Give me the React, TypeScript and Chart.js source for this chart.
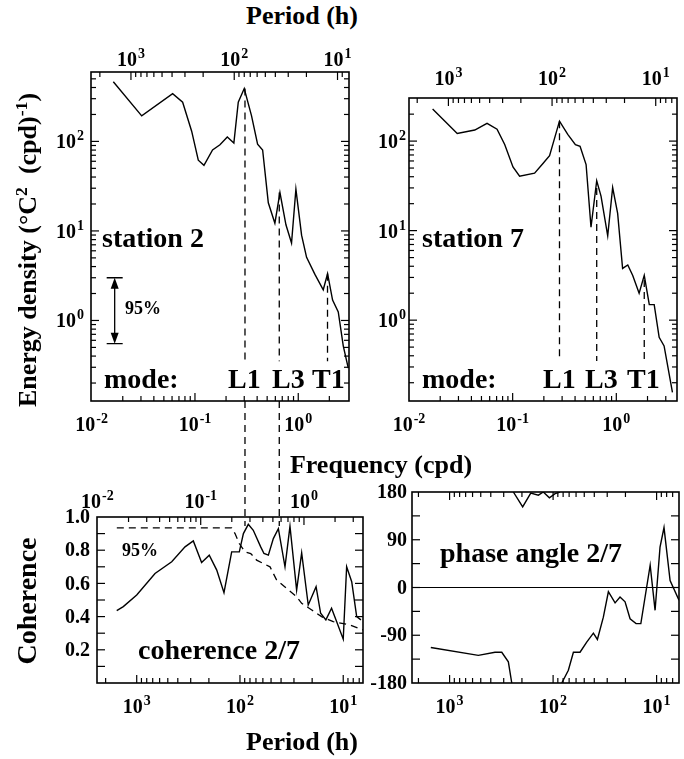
import { useEffect, useRef } from "react";
import { Chart, registerables } from "chart.js";

Chart.register(...registerables);

const FONT = '"Liberation Serif", "Times New Roman", Times, serif';
const HOURS_PER_DAY = 24;

// ---- Station 2 temperature spectrum (frequency in cpd, energy density) ----
const st2Freq = [0.0162, 0.0305, 0.0608, 0.076, 0.0929, 0.1077, 0.1222, 0.148, 0.1746, 0.2056, 0.238, 0.2626, 0.3, 0.353, 0.404, 0.452, 0.513, 0.594, 0.665, 0.76, 0.861, 0.949, 1.077, 1.204, 1.45, 1.746, 1.923, 2.15, 2.44, 2.73, 3.05];
const st2Energy = [464, 193, 341, 274, 130, 61.7, 54.1, 80.3, 91.6, 112, 95.7, 274, 389, 193, 93.2, 80.3, 20.6, 12.2, 26.8, 11.7, 7.33, 29.3, 8.96, 5.07, 3.27, 2.2, 3.33, 1.69, 1.245, 0.518, 0.293];

// ---- Station 7 temperature spectrum ----
const st7Freq = [0.0169, 0.0292, 0.0431, 0.0566, 0.0707, 0.0838, 0.1007, 0.1167, 0.1628, 0.196, 0.227, 0.283, 0.34, 0.403, 0.447, 0.511, 0.57, 0.647, 0.712, 0.826, 0.922, 1.03, 1.15, 1.29, 1.44, 1.66, 1.86, 2.08, 2.32, 2.59, 2.89, 3.48];
const st7Energy = [228, 121.6, 133, 158, 136, 91.5, 51.5, 40.5, 43.9, 56.2, 68.9, 167, 119, 91.5, 87.5, 54.7, 10.9, 36.1, 24.3, 8.75, 30.3, 15.6, 3.78, 4.13, 3.16, 2.0, 3.16, 1.49, 1.49, 0.642, 0.515, 0.156];

// ---- Seiche modes marked on both spectra ----
const modeNames = ["L1", "L3", "T1"];
const st2ModeFreq = [0.305, 0.655, 1.92];
const st2ModeTop = [389, 26.8, 3.33];
const st7ModeFreq = [0.283, 0.647, 1.86];
const st7ModeTop = [167, 30, 2.8];
const modeBottom = 0.35;

// 95% confidence interval of the spectral estimate
const errBarFreq = 0.0167;
const errBarLow = 0.55;
const errBarHigh = 3.0;

// ---- Coherence between stations 2 and 7 ----
const cohFreq = [0.01537, 0.0178, 0.024, 0.0361, 0.0524, 0.0705, 0.0848, 0.102, 0.121, 0.143, 0.168, 0.1995, 0.2365, 0.259, 0.289, 0.323, 0.381, 0.41, 0.452, 0.505, 0.565, 0.655, 0.732, 0.849, 0.95, 1.1, 1.31, 1.45, 1.63, 1.85, 2.07, 2.4, 2.59, 2.9, 3.24, 3.56];
const cohValue = [0.436, 0.46, 0.53, 0.66, 0.73, 0.82, 0.856, 0.726, 0.77, 0.68, 0.544, 0.79, 0.79, 0.9, 0.956, 0.92, 0.82, 0.78, 0.77, 0.87, 0.93, 0.7, 0.944, 0.56, 0.784, 0.47, 0.58, 0.42, 0.38, 0.45, 0.37, 0.264, 0.7, 0.61, 0.4, 0.38];
const coh95Freq = [0.0154, 0.1995, 0.215, 0.2365, 0.2685, 0.305, 0.348, 0.404, 0.469, 0.544, 0.679, 0.849, 0.95, 1.19, 1.48, 1.92, 2.79, 3.73];
const coh95Value = [0.934, 0.934, 0.9, 0.84, 0.79, 0.78, 0.74, 0.72, 0.7, 0.62, 0.57, 0.52, 0.48, 0.44, 0.4, 0.37, 0.35, 0.32];
// frequencies at which the L1 / L3 guides continue into the coherence panel
const connectorFreq = [0.305, 0.655];

// ---- Phase angle 2/7 (degrees, null = wrap-around break) ----
const phaseFreq = [0.0158, 0.0455, 0.0659, 0.0766, 0.0887, 0.0957, 0.0975, 0.0991, 0.122, 0.146, 0.173, 0.193, 0.221, 0.251, 0.28, 0.285, 0.291, 0.337, 0.377, 0.437, 0.507, 0.588, 0.643, 0.734, 0.821, 0.953, 1.064, 1.19, 1.33, 1.52, 1.69, 2.08, 2.32, 2.59, 2.83, 3.24, 3.95];
const phaseDeg = [-113, -128, -122, -122, -140, -180, null, 180, 152, 178, 174, 180, 169, 177, 180, null, -180, -156, -122, -122, -103, -86, -98, -56, -8, -29, -18, -27, -59, -68, -68, 42, -43, 76, 113, 13, -24];

type Pt = { x: number; y: number | null };
const zip = (xs: number[], ys: (number | null)[]): Pt[] => xs.map((x, i) => ({ x, y: ys[i] }));

const line = (data: Pt[], dash: number[] = [], width = 1.4) => ({
  data,
  borderColor: "#000",
  backgroundColor: "#000",
  borderWidth: width,
  borderDash: dash,
  pointRadius: 0,
  fill: false,
  tension: 0,
  spanGaps: false,
});

const modeLines = (freq: number[], top: number[]) =>
  freq.map((f, i) => line([{ x: f, y: top[i] }, { x: f, y: modeBottom }], [7, 5], 1.3));

type Kind = "log" | "period" | "coh" | "phase";
type Side = { kind: Kind; labels: boolean; gap: number };
type Tick = { v: number; major: boolean; pow?: number; text?: string };

interface Panel {
  box: [number, number, number, number];
  pad: [number, number, number, number];
  x: [number, number];
  y: [number, number];
  yLog: boolean;
  top: Side;
  bottom: Side;
  left: Side;
  right: Side;
  datasets: any[];
  connectors?: number[];
  errorBar?: boolean;
}

function decadeTicks(min: number, max: number): Tick[] {
  const out: Tick[] = [];
  for (let k = -4; k <= 4; k++) {
    for (let m = 1; m <= 9; m++) {
      const v = m * Math.pow(10, k);
      if (v >= min * 0.99 && v <= max * 1.01) out.push({ v, major: m === 1, pow: m === 1 ? k : undefined });
    }
  }
  return out;
}

function periodTicks(min: number, max: number): Tick[] {
  const out: Tick[] = [];
  for (let k = 0; k <= 4; k++) {
    for (let m = 1; m <= 9; m++) {
      const v = HOURS_PER_DAY / (m * Math.pow(10, k));
      if (v >= min * 0.99 && v <= max * 1.01) out.push({ v, major: m === 1, pow: m === 1 ? k : undefined });
    }
  }
  return out;
}

function makeTicks(kind: Kind, min: number, max: number): Tick[] {
  if (kind === "log") return decadeTicks(min, max);
  if (kind === "period") return periodTicks(min, max);
  if (kind === "coh") {
    const out: Tick[] = [];
    for (let i = 0; i <= 10; i++) {
      const v = i / 10;
      out.push({ v, major: true, text: i > 0 && i % 2 === 0 ? v.toFixed(1) : undefined });
    }
    return out;
  }
  const out: Tick[] = [];
  for (let v = -180; v <= 180; v += 45) out.push({ v, major: true, text: v % 90 === 0 ? String(v) : undefined });
  return out;
}

const BASE_PX = 20;
const SUP_PX = 14;
const NUM_PX = 20;

function drawPow(ctx: CanvasRenderingContext2D, exp: number, x: number, baseline: number, align: "center" | "right") {
  const base = `bold ${BASE_PX}px ${FONT}`;
  const sup = `bold ${SUP_PX}px ${FONT}`;
  ctx.font = base;
  const wb = ctx.measureText("10").width;
  ctx.font = sup;
  const es = String(exp);
  const ws = ctx.measureText(es).width;
  const total = wb + 1 + ws;
  const x0 = align === "center" ? x - total / 2 : x - total;
  ctx.textAlign = "left";
  ctx.textBaseline = "alphabetic";
  ctx.font = base;
  ctx.fillText("10", x0, baseline);
  ctx.font = sup;
  ctx.fillText(es, x0 + wb + 1, baseline - 8);
}

function drawSide(ctx: CanvasRenderingContext2D, a: any, scale: any, range: [number, number], side: Side, where: "top" | "bottom" | "left" | "right") {
  const ticks = makeTicks(side.kind, range[0], range[1]);
  const horiz = where === "top" || where === "bottom";
  ctx.lineWidth = 1.2;
  for (const t of ticks) {
    const p = scale.getPixelForValue(t.v);
    const len = t.major ? 8 : 5;
    const inside = horiz ? p > a.left + 1.5 && p < a.right - 1.5 : p > a.top + 1.5 && p < a.bottom - 1.5;
    if (inside) {
      ctx.beginPath();
      if (where === "top") { ctx.moveTo(p, a.top); ctx.lineTo(p, a.top + len); }
      if (where === "bottom") { ctx.moveTo(p, a.bottom); ctx.lineTo(p, a.bottom - len); }
      if (where === "left") { ctx.moveTo(a.left, p); ctx.lineTo(a.left + len, p); }
      if (where === "right") { ctx.moveTo(a.right, p); ctx.lineTo(a.right - len, p); }
      ctx.stroke();
    }
    if (!side.labels) continue;
    if (t.pow !== undefined) {
      if (where === "top") drawPow(ctx, t.pow, p, a.top - side.gap, "center");
      if (where === "bottom") drawPow(ctx, t.pow, p, a.bottom + side.gap, "center");
      if (where === "left") drawPow(ctx, t.pow, a.left - side.gap, p + 7, "right");
    } else if (t.text !== undefined) {
      ctx.font = `bold ${NUM_PX}px ${FONT}`;
      ctx.textAlign = "right";
      ctx.textBaseline = "middle";
      ctx.fillText(t.text, a.left - side.gap, p + 1);
    }
  }
}

function framePlugin(p: Panel) {
  return {
    id: "frame",
    afterDraw(chart: any) {
      const ctx: CanvasRenderingContext2D = chart.ctx;
      const a = chart.chartArea;
      const xs = chart.scales.x;
      const ys = chart.scales.y;
      ctx.save();
      ctx.strokeStyle = "#000";
      ctx.fillStyle = "#000";
      if (p.connectors) {
        ctx.lineWidth = 1.3;
        ctx.setLineDash([7, 5]);
        for (const f of p.connectors) {
          const x = xs.getPixelForValue(f);
          ctx.beginPath();
          ctx.moveTo(x, a.bottom);
          ctx.lineTo(x, chart.height);
          ctx.stroke();
        }
        ctx.setLineDash([]);
      }
      if (p.errorBar) {
        const x = xs.getPixelForValue(errBarFreq);
        const yt = ys.getPixelForValue(errBarHigh);
        const yb = ys.getPixelForValue(errBarLow);
        ctx.lineWidth = 1.3;
        ctx.beginPath();
        ctx.moveTo(x - 8, yt); ctx.lineTo(x + 8, yt);
        ctx.moveTo(x - 8, yb); ctx.lineTo(x + 8, yb);
        ctx.moveTo(x, yt + 4); ctx.lineTo(x, yb - 4);
        ctx.stroke();
        ctx.beginPath();
        ctx.moveTo(x, yt); ctx.lineTo(x - 4, yt + 11); ctx.lineTo(x + 4, yt + 11); ctx.closePath();
        ctx.moveTo(x, yb); ctx.lineTo(x - 4, yb - 11); ctx.lineTo(x + 4, yb - 11); ctx.closePath();
        ctx.fill();
      }
      ctx.lineWidth = 1.6;
      ctx.strokeRect(a.left, a.top, a.right - a.left, a.bottom - a.top);
      drawSide(ctx, a, xs, p.x, p.top, "top");
      drawSide(ctx, a, xs, p.x, p.bottom, "bottom");
      drawSide(ctx, a, ys, p.y, p.left, "left");
      drawSide(ctx, a, ys, p.y, p.right, "right");
      ctx.restore();
    },
  };
}

const PANELS: Panel[] = [
  {
    box: [91, 72, 349, 401],
    pad: [56, 32, 8, 125],
    x: [0.00985, 3.1],
    y: [0.126, 596],
    yLog: true,
    top: { kind: "period", labels: true, gap: 6 },
    bottom: { kind: "log", labels: true, gap: 30 },
    left: { kind: "log", labels: true, gap: 7 },
    right: { kind: "log", labels: false, gap: 0 },
    datasets: [line(zip(st2Freq, st2Energy)), ...modeLines(st2ModeFreq, st2ModeTop)],
    connectors: connectorFreq,
    errorBar: true,
  },
  {
    box: [409, 98, 677, 401],
    pad: [56, 40, 7, 40],
    x: [0.01, 3.85],
    y: [0.125, 303],
    yLog: true,
    top: { kind: "period", labels: true, gap: 13 },
    bottom: { kind: "log", labels: true, gap: 30 },
    left: { kind: "log", labels: true, gap: 3 },
    right: { kind: "log", labels: false, gap: 0 },
    datasets: [line(zip(st7Freq, st7Energy)), ...modeLines(st7ModeFreq, st7ModeTop)],
  },
  {
    box: [97, 517, 363, 683],
    pad: [52, 30, 6, 40],
    x: [0.0099, 3.73],
    y: [0, 1],
    yLog: false,
    top: { kind: "log", labels: true, gap: 9 },
    bottom: { kind: "period", labels: true, gap: 30 },
    left: { kind: "coh", labels: true, gap: 7 },
    right: { kind: "coh", labels: false, gap: 0 },
    datasets: [line(zip(cohFreq, cohValue)), line(zip(coh95Freq, coh95Value), [7, 5], 1.3)],
  },
  {
    box: [412, 492, 679, 683],
    pad: [52, 12, 5, 40],
    x: [0.0104, 3.95],
    y: [-180, 180],
    yLog: false,
    top: { kind: "period", labels: false, gap: 0 },
    bottom: { kind: "period", labels: true, gap: 30 },
    left: { kind: "phase", labels: true, gap: 5 },
    right: { kind: "phase", labels: false, gap: 0 },
    datasets: [
      line(zip(phaseFreq, phaseDeg)),
      line([{ x: 0.0104, y: 0 }, { x: 3.95, y: 0 }], [], 1.2),
    ],
  },
];

const canvasSize = (p: Panel) => ({
  left: p.box[0] - p.pad[0],
  top: p.box[1] - p.pad[1],
  width: p.box[2] - p.box[0] + p.pad[0] + p.pad[2],
  height: p.box[3] - p.box[1] + p.pad[1] + p.pad[3],
});

function buildChart(canvas: HTMLCanvasElement, p: Panel) {
  const fix = (range: [number, number]) => (s: any) => {
    s.ticks = [{ value: range[0] }, { value: range[1] }];
    s.min = range[0];
    s.max = range[1];
  };
  return new Chart(canvas, {
    type: "line",
    data: { datasets: p.datasets },
    options: {
      responsive: false,
      maintainAspectRatio: false,
      animation: false,
      layout: { padding: { left: p.pad[0], top: p.pad[1], right: p.pad[2], bottom: p.pad[3] } },
      plugins: { legend: { display: false }, tooltip: { enabled: false }, title: { display: false } },
      scales: {
        x: { type: "logarithmic", display: false, min: p.x[0], max: p.x[1], afterBuildTicks: fix(p.x) },
        y: { type: p.yLog ? "logarithmic" : "linear", display: false, min: p.y[0], max: p.y[1], afterBuildTicks: fix(p.y) },
      },
    } as any,
    plugins: [framePlugin(p)],
  });
}

const textBase: any = {
  position: "absolute",
  fontFamily: FONT,
  fontWeight: 700,
  lineHeight: 1,
  whiteSpace: "nowrap",
  color: "#000",
};

function Label(props: { x: number; y: number; size: number; align?: "left" | "center"; rotate?: boolean; children: any }) {
  const { x, y, size, align = "left", rotate = false, children } = props;
  const transform = rotate ? "translate(-50%, -50%) rotate(-90deg)" : align === "center" ? "translate(-50%, -50%)" : "translate(0, -50%)";
  return <div style={{ ...textBase, left: x, top: y, fontSize: size, transform }}>{children}</div>;
}

const Sup = ({ children }: { children: any }) => (
  <span style={{ fontSize: "0.68em", position: "relative", top: "-0.5em" }}>{children}</span>
);

const st2LabelX = [228, 272, 312];
const st7LabelX = [543, 585, 627];

export default function App() {
  const r0 = useRef<HTMLCanvasElement>(null);
  const r1 = useRef<HTMLCanvasElement>(null);
  const r2 = useRef<HTMLCanvasElement>(null);
  const r3 = useRef<HTMLCanvasElement>(null);
  const refs = [r0, r1, r2, r3];

  useEffect(() => {
    const charts = PANELS.map((p, i) => buildChart(refs[i].current as HTMLCanvasElement, p));
    return () => charts.forEach((c) => c.destroy());
  }, []);

  return (
    <div style={{ position: "absolute", left: 0, top: 0, width: 684, height: 759, background: "#fff", overflow: "hidden" }}>
      {PANELS.map((p, i) => {
        const s = canvasSize(p);
        return (
          <canvas
            key={i}
            ref={refs[i]}
            width={s.width}
            height={s.height}
            style={{ position: "absolute", left: s.left, top: s.top, width: s.width, height: s.height }}
          />
        );
      })}

      <Label x={302} y={16} size={26} align="center">Period (h)</Label>
      <Label x={28} y={250} size={26} rotate>
        Energy density (°C<Sup>2</Sup>&nbsp; (cpd)<Sup>-1</Sup>)
      </Label>
      <Label x={381} y={465} size={26} align="center">Frequency (cpd)</Label>
      <Label x={27} y={601} size={28} rotate>Coherence</Label>
      <Label x={302} y={742} size={26} align="center">Period (h)</Label>

      <Label x={102} y={238} size={28}>station 2</Label>
      <Label x={104} y={379} size={28}>mode:</Label>
      {modeNames.map((m, i) => (
        <Label key={"a" + m} x={st2LabelX[i]} y={379} size={28}>{m}</Label>
      ))}
      <Label x={125} y={308} size={18}>95%</Label>

      <Label x={422} y={238} size={28}>station 7</Label>
      <Label x={422} y={379} size={28}>mode:</Label>
      {modeNames.map((m, i) => (
        <Label key={"b" + m} x={st7LabelX[i]} y={379} size={28}>{m}</Label>
      ))}

      <Label x={122} y={550} size={18}>95%</Label>
      <Label x={138} y={650} size={28}>coherence 2/7</Label>
      <Label x={440} y={553} size={28}>phase angle 2/7</Label>
    </div>
  );
}
